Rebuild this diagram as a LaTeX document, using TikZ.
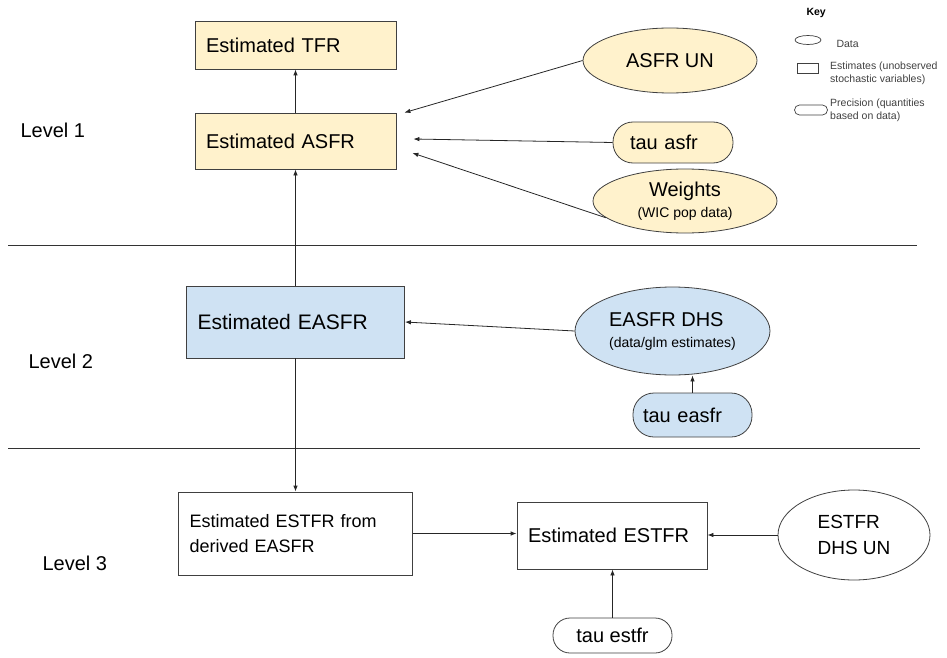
\documentclass[tikz,border=0pt]{standalone}
\usepackage{fontspec}
\setmainfont{Liberation Sans}
\usetikzlibrary{shapes.geometric,arrows.meta}
\definecolor{yel}{HTML}{FFF2CC}
\definecolor{blu}{HTML}{CFE2F3}
\definecolor{edge}{HTML}{404040}
\begin{document}
\begin{tikzpicture}[x=1pt,y=-1pt,
  big/.style={font=\fontsize{20}{24}\selectfont},
  keyfont/.style={font=\fontsize{10.5}{13}\selectfont, text=black!75},
  box/.style={draw=edge, line width=0.8pt, rectangle, inner ysep=0pt, inner xsep=11pt, align=left, big},
  data/.style={draw=edge, line width=0.8pt, ellipse, inner sep=0pt, align=left, big},
  prec/.style={draw=edge, line width=0.8pt, rectangle, inner ysep=0pt, big},
  arr/.style={-{Latex[length=6pt,width=4.5pt]}, draw=black!85, line width=0.8pt},
  sep/.style={draw=black!80, line width=0.8pt},
  lvl/.style={anchor=west, font=\fontsize{20}{24}\selectfont}]
\useasboundingbox (0,0) rectangle (947,658);

% separators
\draw[sep] (8,245) -- (917,245);
\draw[sep] (8,448) -- (920,448);

% level labels
\node[lvl] (l1) at (17,130) {Level 1};
\node[lvl] (l2) at (25,361) {Level 2};
\node[lvl] (l3) at (39,563) {Level 3};

% level 1
\node[box, fill=yel, minimum width=201, minimum height=48, text width=179] (tfr) at (295.5,45) {Estimated TFR};
\node[box, fill=yel, minimum width=201, minimum height=56, text width=179] (asfr) at (295.5,141) {Estimated ASFR};
\node[data, fill=yel, minimum width=174, minimum height=65] (asfrun) at (670,60.5) {ASFR UN};
\node[prec, fill=yel, minimum width=120, minimum height=41, rounded corners=20pt, text width=86, align=left] (tauasfr) at (673,142.5) {tau asfr};
\node[data, fill=yel, minimum width=184, minimum height=64, align=center] (weights) at (685,201) {Weights\\[-3pt]{\fontsize{14}{17}\selectfont (WIC pop data)}};

% level 2
\node[box, fill=blu, minimum width=218, minimum height=72, text width=196, font=\fontsize{21}{25}\selectfont] (easfr) at (295.5,322) {Estimated EASFR};
\node[data, fill=blu, minimum width=195, minimum height=88] (easfrdhs) at (672.5,331) {EASFR DHS\\[-3pt]{\fontsize{14}{17}\selectfont (data/glm estimates)}};
\node[prec, fill=blu, minimum width=119, minimum height=44, rounded corners=21pt, text width=99, align=left] (taueasfr) at (692.5,415) {tau easfr};

% level 3
\node[box, fill=white, minimum width=234, minimum height=83, text width=212, font=\fontsize{18}{25}\selectfont] (derived) at (295.5,533.5) {Estimated ESTFR from\\derived EASFR};
\node[box, fill=white, minimum width=190, minimum height=67, text width=168] (estfr) at (612,535.5) {Estimated ESTFR};
\node[data, fill=white, minimum width=152, minimum height=90, font=\fontsize{19}{26}\selectfont] (estfrdhs) at (854,535) {ESTFR\\DHS UN};
\node[prec, fill=white, minimum width=119, minimum height=35, rounded corners=17pt, align=center] (tauestfr) at (612.5,635.5) {tau estfr};

% key
\node[anchor=west, font=\bfseries\fontsize{10.5}{13}\selectfont] (keyt) at (803,13) {Key};
\node[draw=edge, line width=0.7pt, ellipse, minimum width=26, minimum height=9, inner sep=0pt] (kell) at (808,40) {};
\node[keyfont, anchor=west] (kdata) at (833,44) {Data};
\node[draw=edge, line width=0.7pt, rectangle, minimum width=21, minimum height=10, inner sep=0pt] (krect) at (807.5,68) {};
\node[keyfont, anchor=west, align=left, inner sep=0pt] (kest) at (830,73) {Estimates (unobserved\\stochastic variables)};
\node[draw=edge, line width=0.7pt, rectangle, rounded corners=5pt, minimum width=33, minimum height=10, inner sep=0pt] (kprec) at (811,110) {};
\node[keyfont, anchor=west, align=left, inner sep=0pt] (kpre) at (830,110) {Precision (quantities\\based on data)};

% connectors
\draw[arr] (asfr.north) -- (tfr.south);
\draw[arr] (easfr.north) -- (easfr.north |- asfr.south);
\draw[arr] (easfr.south) -- (easfr.south |- derived.north);
\draw[arr] (asfrun.west) -- ([xshift=8pt]asfr.north east);
\draw[arr] (tauasfr.west) -- ([xshift=17pt,yshift=2pt]asfr.east);
\draw[arr] (weights.192) -- ([xshift=16pt,yshift=-12pt]asfr.east);
\draw[arr] (easfrdhs.west) -- (easfr.east);
\draw[arr] (taueasfr.north) -- (taueasfr.north |- easfrdhs.south);
\draw[arr] (derived.east) -- (derived.east -| estfr.west);
\draw[arr] (estfrdhs.west) -- (estfrdhs.west -| estfr.east);
\draw[arr] (tauestfr.north) -- (tauestfr.north |- estfr.south);
\end{tikzpicture}
\end{document}
